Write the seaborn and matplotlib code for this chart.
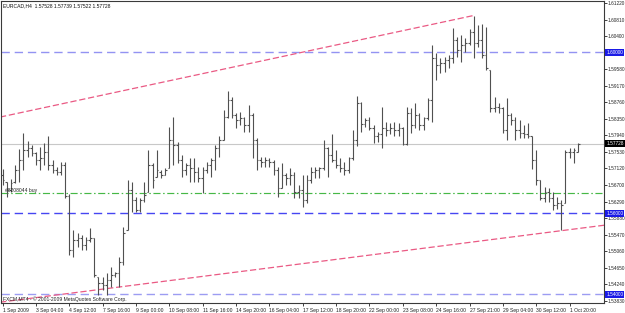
import numpy as np
import pandas as pd
import matplotlib
matplotlib.use("Agg")
import matplotlib.pyplot as plt
import seaborn as sns

sns.set_theme(style="white")
plt.rcParams["font.family"] = ["Liberation Sans", "DejaVu Sans"]

# ---------------- data (EURCAD H4) ----------------
bar_high = [1.5710, 1.5678, 1.5686, 1.5720, 1.5760, 1.5800, 1.5780, 1.5770, 1.5752, 1.5765,
            1.5775, 1.5792, 1.5733, 1.5715, 1.5728, 1.5728, 1.5648, 1.5559, 1.5552, 1.5547,
            1.5542, 1.5564, 1.5539, 1.5442, 1.5442, 1.5452, 1.5467, 1.5455, 1.5492, 1.5567,
            1.5683, 1.5678, 1.5641, 1.5638, 1.5678, 1.5757, 1.5725, 1.5757, 1.5708, 1.5713,
            1.5814, 1.5839, 1.5777, 1.5745, 1.5725, 1.5738, 1.5738, 1.5715, 1.5715, 1.5728,
            1.5738, 1.5770, 1.5792, 1.5857, 1.5904, 1.5889, 1.5849, 1.5852, 1.5839, 1.5869,
            1.5849, 1.5787, 1.5740, 1.5740, 1.5738, 1.5733, 1.5715, 1.5725, 1.5700, 1.5713,
            1.5703, 1.5671, 1.5695, 1.5695, 1.5715, 1.5715, 1.5715, 1.5782, 1.5765, 1.5797,
            1.5757, 1.5738, 1.5728, 1.5740, 1.5807, 1.5891, 1.5876, 1.5837, 1.5839, 1.5819,
            1.5802, 1.5864, 1.5827, 1.5824, 1.5827, 1.5824, 1.5814, 1.5864, 1.5862, 1.5874,
            1.5849, 1.5839, 1.5886, 1.6018, 1.5998, 1.5986, 1.5988, 1.5993, 1.6060, 1.6038,
            1.6043, 1.6035, 1.6057, 1.6090, 1.6067, 1.6070, 1.6062, 1.5956, 1.5889, 1.5874,
            1.5864, 1.5886, 1.5849, 1.5839, 1.5832, 1.5819, 1.5824, 1.5792, 1.5757, 1.5683,
            1.5666, 1.5663, 1.5653, 1.5641, 1.5633, 1.5757, 1.5762, 1.5762, 1.57739]
bar_low = [1.5671, 1.5641, 1.5653, 1.5676, 1.5678, 1.5708, 1.5740, 1.5743, 1.5720, 1.5708,
           1.5720, 1.5708, 1.5700, 1.5695, 1.5695, 1.5638, 1.5497, 1.5492, 1.5517, 1.5509,
           1.5509, 1.5529, 1.5442, 1.5398, 1.5410, 1.5398, 1.5417, 1.5442, 1.5417, 1.5472,
           1.5559, 1.5604, 1.5604, 1.5604, 1.5628, 1.5653, 1.5663, 1.5690, 1.5688, 1.5695,
           1.5713, 1.5720, 1.5725, 1.5690, 1.5695, 1.5678, 1.5678, 1.5678, 1.5651, 1.5700,
           1.5690, 1.5708, 1.5740, 1.5782, 1.5837, 1.5837, 1.5812, 1.5819, 1.5802, 1.5802,
           1.5738, 1.5708, 1.5715, 1.5715, 1.5715, 1.5695, 1.5641, 1.5663, 1.5671, 1.5671,
           1.5638, 1.5638, 1.5616, 1.5626, 1.5676, 1.5688, 1.5688, 1.5708, 1.5690, 1.5728,
           1.5713, 1.5703, 1.5695, 1.5700, 1.5733, 1.5767, 1.5802, 1.5814, 1.5807, 1.5775,
           1.5777, 1.5762, 1.5792, 1.5797, 1.5792, 1.5792, 1.5770, 1.5770, 1.5800, 1.5812,
           1.5807, 1.5807, 1.5832, 1.5827, 1.5931, 1.5948, 1.5951, 1.5961, 1.5973, 1.5988,
           1.5976, 1.6000, 1.6018, 1.5986, 1.6013, 1.5986, 1.5956, 1.5852, 1.5852, 1.5849,
           1.5800, 1.5782, 1.5819, 1.5782, 1.5787, 1.5787, 1.5787, 1.5710, 1.5671, 1.5633,
           1.5628, 1.5628, 1.5609, 1.5611, 1.5559, 1.5626, 1.5738, 1.5725, 1.57522]
bar_open = [1.5695, 1.5678, 1.5658, 1.5678, 1.5708, 1.5733, 1.5757, 1.5762, 1.5750, 1.5733,
            1.5738, 1.5752, 1.5720, 1.5708, 1.5703, 1.5720, 1.5643, 1.5509, 1.5534, 1.5539,
            1.5522, 1.5534, 1.5539, 1.5442, 1.5427, 1.5422, 1.5435, 1.5447, 1.5452, 1.5480,
            1.5559, 1.5658, 1.5633, 1.5609, 1.5633, 1.5653, 1.5720, 1.5690, 1.5703, 1.5695,
            1.5713, 1.5782, 1.5770, 1.5733, 1.5708, 1.5720, 1.5713, 1.5703, 1.5688, 1.5708,
            1.5720, 1.5733, 1.5762, 1.5782, 1.5839, 1.5881, 1.5844, 1.5832, 1.5837, 1.5819,
            1.5844, 1.5782, 1.5733, 1.5728, 1.5733, 1.5728, 1.5708, 1.5663, 1.5695, 1.5688,
            1.5695, 1.5653, 1.5658, 1.5633, 1.5683, 1.5703, 1.5708, 1.5713, 1.5762, 1.5745,
            1.5733, 1.5720, 1.5713, 1.5708, 1.5738, 1.5782, 1.5874, 1.5822, 1.5832, 1.5812,
            1.5792, 1.5797, 1.5812, 1.5807, 1.5812, 1.5807, 1.5812, 1.5772, 1.5849, 1.5819,
            1.5844, 1.5819, 1.5837, 1.5881, 1.5986, 1.5968, 1.5973, 1.5981, 1.5986, 1.6030,
            1.6005, 1.6018, 1.6023, 1.6050, 1.6023, 1.6030, 1.5993, 1.5956, 1.5862, 1.5864,
            1.5862, 1.5807, 1.5844, 1.5832, 1.5807, 1.5800, 1.5797, 1.5792, 1.5733, 1.5683,
            1.5638, 1.5653, 1.5638, 1.5621, 1.5626, 1.5626, 1.5752, 1.5752, 1.57528]
bar_close = [1.5683, 1.5658, 1.5676, 1.5708, 1.5733, 1.5757, 1.5762, 1.5750, 1.5733, 1.5738,
             1.5752, 1.5720, 1.5708, 1.5703, 1.5720, 1.5643, 1.5509, 1.5534, 1.5539, 1.5522,
             1.5534, 1.5539, 1.5447, 1.5427, 1.5422, 1.5435, 1.5447, 1.5452, 1.5480, 1.5552,
             1.5658, 1.5633, 1.5609, 1.5633, 1.5646, 1.5720, 1.5683, 1.5708, 1.5695, 1.5708,
             1.5782, 1.5770, 1.5733, 1.5708, 1.5720, 1.5713, 1.5703, 1.5688, 1.5708, 1.5720,
             1.5733, 1.5762, 1.5782, 1.5839, 1.5881, 1.5844, 1.5832, 1.5837, 1.5819, 1.5844,
             1.5782, 1.5733, 1.5728, 1.5733, 1.5728, 1.5708, 1.5663, 1.5695, 1.5688, 1.5695,
             1.5653, 1.5658, 1.5633, 1.5683, 1.5703, 1.5708, 1.5713, 1.5762, 1.5745, 1.5733,
             1.5720, 1.5713, 1.5708, 1.5738, 1.5782, 1.5874, 1.5822, 1.5832, 1.5812, 1.5792,
             1.5797, 1.5812, 1.5807, 1.5812, 1.5807, 1.5812, 1.5772, 1.5849, 1.5819, 1.5844,
             1.5819, 1.5837, 1.5881, 1.5986, 1.5968, 1.5973, 1.5981, 1.5986, 1.6030, 1.6005,
             1.6018, 1.6023, 1.6050, 1.6023, 1.6030, 1.5993, 1.5961, 1.5862, 1.5864, 1.5862,
             1.5807, 1.5844, 1.5832, 1.5807, 1.5800, 1.5797, 1.5792, 1.5733, 1.5683, 1.5638,
             1.5653, 1.5638, 1.5621, 1.5626, 1.5621, 1.5752, 1.5752, 1.5757, 1.57728]

x_tick_bars = [0, 8, 16, 24, 32, 40, 48, 56, 64, 72, 80, 88, 96, 104, 112, 120, 128, 136]
x_tick_labels = ["1 Sep 2009", "3 Sep 04:00", "4 Sep 12:00", "7 Sep 16:00", "9 Sep 00:00",
                 "10 Sep 08:00", "11 Sep 16:00", "14 Sep 20:00", "16 Sep 04:00", "17 Sep 12:00",
                 "18 Sep 20:00", "22 Sep 00:00", "23 Sep 08:00", "24 Sep 16:00", "27 Sep 21:00",
                 "29 Sep 04:00", "30 Sep 12:00", "1 Oct 20:00"]
y_ticks = [1.61220, 1.60810, 1.60400, 1.59580, 1.59170, 1.58760, 1.58350, 1.57940, 1.57530,
           1.57120, 1.56700, 1.56290, 1.55880, 1.55470, 1.55060, 1.54650, 1.54240, 1.53830]

level_prices = [1.60000, 1.56000, 1.54000]
level_colors = ["#9393f2", "#4646f2", "#9c9cf2"]
order_price = 1.5652
order_label = "#8208044 buy"
bid_price = 1.57728

upper_trend_bars = [-0.6, 113.0]
upper_trend_prices = [1.5839, 1.6091]
lower_trend_bars = [-0.6, 144.4]
lower_trend_prices = [1.5380, 1.5571]

title_text = "EURCAD,H4  1.57528 1.57739 1.57522 1.57728"
copyright_text = "FXCM,MT4 - \u00a9 2001-2009 MetaQuotes Software Corp."

# ---------------- figure ----------------
W, H = 625, 313
fig = plt.figure(figsize=(W / 100, H / 100), dpi=100)
fig.patch.set_facecolor("white")
ax = fig.add_axes([0.5 / W, 10 / H, 603.5 / W, 302 / H])
ax.set_facecolor("white")

df = pd.DataFrame({"bar": np.arange(len(bar_high)), "open": bar_open, "high": bar_high,
                   "low": bar_low, "close": bar_close})

bar_col = "#505050"
ax.vlines(df["bar"], df["low"], df["high"], color=bar_col, lw=0.8, zorder=3)
ax.hlines(df["open"], df["bar"] - 0.38, df["bar"], color=bar_col, lw=0.8, zorder=3)
ax.hlines(df["close"], df["bar"], df["bar"] + 0.38, color=bar_col, lw=0.8, zorder=3)

# horizontal levels
for p, c in zip(level_prices, level_colors):
    ax.axhline(p, color=c, lw=1.0, ls=(0, (6, 3.5)), zorder=2)
ax.axhline(order_price, color="#46b846", lw=0.85, ls=(0, (6, 2.2, 1.3, 2.2)), zorder=2)
ax.axhline(bid_price, color="#c8c8c8", lw=0.8, zorder=1)

# trend lines
tl = pd.DataFrame({"bar": upper_trend_bars + lower_trend_bars,
                   "price": upper_trend_prices + lower_trend_prices,
                   "line": ["upper", "upper", "lower", "lower"]})
sns.lineplot(data=tl, x="bar", y="price", units="line", estimator=None, ax=ax,
             color="#ea5a84", lw=0.9, dashes=False, legend=False, zorder=2)
for ln in ax.lines[-2:]:
    ln.set_linestyle((0, (5, 2.2)))

ax.set_xlim(-0.48, 144.25)
ax.set_ylim(1.53780, 1.61269)

# axes/ticks
for s in ax.spines.values():
    s.set_color("#3a3a3a")
    s.set_linewidth(0.8)
    s.set_visible(True)

fs = 3.4
ax.yaxis.tick_right()
ax.set_yticks(y_ticks)
ax.set_yticklabels([f"{v:.5f}" for v in y_ticks], fontsize=fs, color="#222222")
ax.tick_params(axis="y", which="major", direction="out", length=1.8, width=0.6,
               pad=0.8, colors="#222222", right=True, left=False)
ax.set_xticks(x_tick_bars)
ax.set_xticklabels(x_tick_labels, fontsize=fs + 0.2, color="#222222")
for lab in ax.get_xticklabels():
    lab.set_horizontalalignment("left")
ax.tick_params(axis="x", which="major", direction="out", length=2, width=0.6,
               pad=1.5, colors="#222222", bottom=True)
ax.set_xlabel("")
ax.set_ylabel("")

# highlighted price labels on the right scale
hl = [(level_prices[0], "#1a1ae6"), (bid_price, "#000000"), (level_prices[1], "#1a1ae6"),
      (level_prices[2], "#1a1ae6")]
for p, c in hl:
    ax.annotate(f"{p:.5f}", xy=(1.0, p), xycoords=("axes fraction", "data"),
                xytext=(1.6, 0), textcoords="offset points", ha="left", va="center",
                fontsize=fs, color="white",
                bbox=dict(boxstyle="square,pad=0.2", fc=c, ec="none"), annotation_clip=False)

# texts
fig.text(3 / W, 1 - 6 / H, title_text, fontsize=fs + 0.2, ha="left", va="center", color="#111111")
ax.text(4.5 / 603.5, order_price, order_label, transform=ax.get_yaxis_transform(),
        fontsize=fs + 0.2, ha="left", va="bottom", color="#222222")
fig.text(3 / W, 1 - 299 / H, copyright_text, fontsize=fs + 0.2, ha="left", va="center",
         color="#222222")

fig.savefig("out.png", dpi=100, facecolor="white")
